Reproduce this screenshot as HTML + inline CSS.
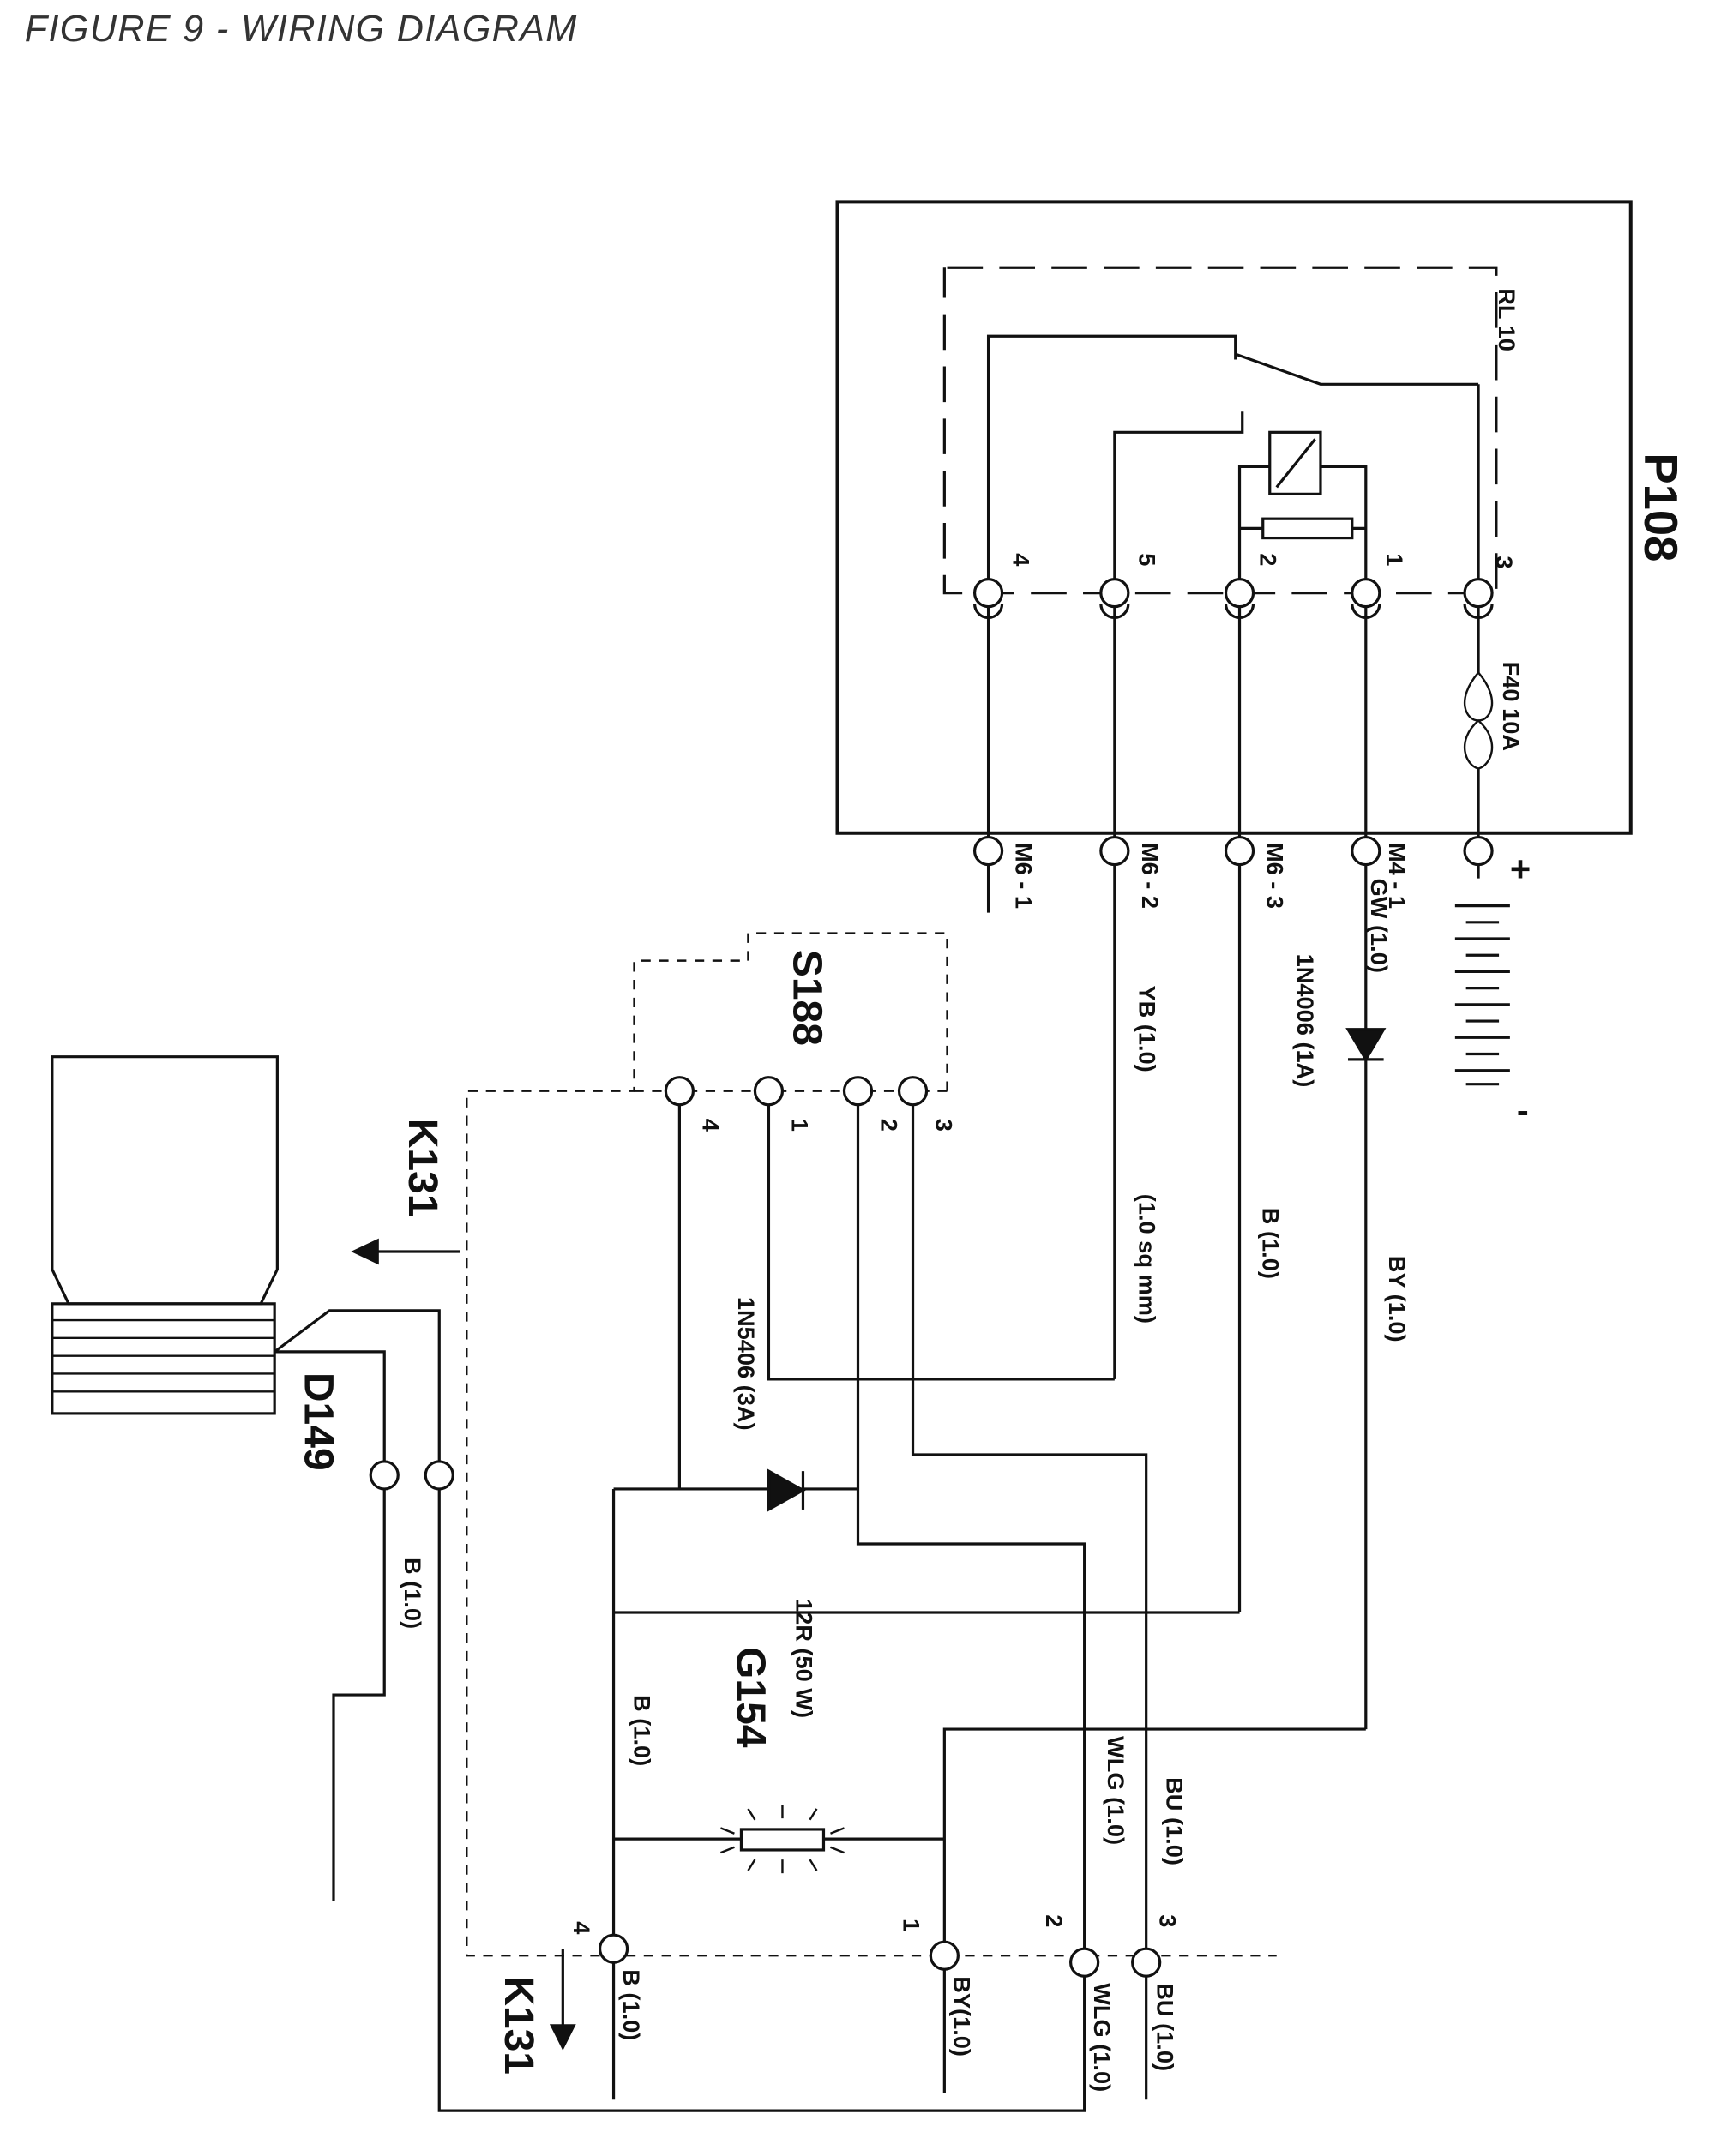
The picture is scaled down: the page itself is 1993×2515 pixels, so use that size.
<!DOCTYPE html>
<html><head><meta charset="utf-8"><style>
html,body{margin:0;padding:0;background:#fff;}
svg{display:block}
text{font-family:"Liberation Sans",sans-serif;font-weight:bold;fill:#111}
</style></head><body>
<svg width="1993" height="2515" viewBox="0 0 1245 1571" xmlns="http://www.w3.org/2000/svg">
<text x="18" y="30" style="font-weight:normal;font-style:italic;font-size:27px;fill:#333" textLength="402">FIGURE 9 - WIRING DIAGRAM</text>
<g stroke="#111" fill="none" stroke-width="2">
<rect x="610" y="147" width="578" height="460" stroke-width="2.5"/>
<path d="M690 195 H1090 V432 H688 V195" stroke-dasharray="26 12"/>
<line x1="720" y1="432" x2="720" y2="665"/>
<line x1="812" y1="432" x2="812" y2="1005"/>
<line x1="903" y1="432" x2="903" y2="1175"/>
<line x1="995" y1="432" x2="995" y2="1260"/>
<line x1="1077" y1="280" x2="1077" y2="640"/>
<path d="M720 432 V245 H900 V262"/>
<path d="M900 258 L962 280 H1077"/>
<path d="M812 432 V315 H905 V300"/>
<path d="M903 432 V340 H925 M962 340 H995 V432"/>
<rect x="925" y="315" width="37" height="45"/>
<line x1="930" y1="355" x2="958" y2="320"/>
<path d="M903 385 H920 M985 385 H995"/>
<rect x="920" y="378" width="65" height="14"/>
<path d="M1077 490 C1060 510 1068 525 1077 525 C1086 525 1094 510 1077 490 Z M1077 525 C1060 540 1068 558 1077 560 C1086 558 1094 540 1077 525 Z" stroke-width="1.5" fill="#fff"/>
<g stroke-width="2">
<line x1="1060" y1="660" x2="1100" y2="660"/><line x1="1068" y1="672" x2="1092" y2="672"/>
<line x1="1060" y1="684" x2="1100" y2="684"/><line x1="1068" y1="696" x2="1092" y2="696"/>
<line x1="1060" y1="708" x2="1100" y2="708"/><line x1="1068" y1="720" x2="1092" y2="720"/>
<line x1="1060" y1="732" x2="1100" y2="732"/><line x1="1068" y1="744" x2="1092" y2="744"/>
<line x1="1060" y1="756" x2="1100" y2="756"/><line x1="1068" y1="768" x2="1092" y2="768"/>
<line x1="1060" y1="780" x2="1100" y2="780"/><line x1="1068" y1="790" x2="1092" y2="790"/>
</g>
<path d="M812 1005 H560 V795"/>
<path d="M903 1175 H447"/>
<path d="M995 1260 H688 V1425"/>
<path d="M495 795 V1085"/>
<path d="M625 795 V1125 H790 V1538 H320 V955 H240 L200 985"/>
<path d="M665 795 V1060 H835 V1530"/>
<path d="M447 1085 H625"/>
<path d="M447 1085 V1530"/>
<path d="M688 1425 V1525"/>
<path d="M200 985 H280 V1235 H243 V1385"/>
<path d="M447 1340 H540 M600 1340 H688"/>
<rect x="540" y="1333" width="60" height="15" fill="#fff"/>
<g stroke-width="1.5">
<line x1="570" y1="1315" x2="570" y2="1325"/><line x1="570" y1="1355" x2="570" y2="1365"/>
<line x1="545" y1="1318" x2="550" y2="1326"/><line x1="595" y1="1318" x2="590" y2="1326"/>
<line x1="545" y1="1363" x2="550" y2="1355"/><line x1="595" y1="1363" x2="590" y2="1355"/>
<line x1="525" y1="1332" x2="535" y2="1336"/><line x1="615" y1="1332" x2="605" y2="1336"/>
<line x1="525" y1="1350" x2="535" y2="1346"/><line x1="615" y1="1350" x2="605" y2="1346"/>
</g>
<path d="M690 795 V680 H545 V700 H462 V795 H340 V1425 H930" stroke-dasharray="7 6" stroke-width="1.5"/>
<line x1="462" y1="795" x2="690" y2="795" stroke-dasharray="7 6" stroke-width="1.5"/>
<path d="M38 770 H202 V925 L190 950 H50 L38 925 Z"/>
<rect x="38" y="950" width="162" height="80"/>
<g stroke-width="1.5"><line x1="38" y1="962" x2="200" y2="962"/><line x1="38" y1="975" x2="200" y2="975"/><line x1="38" y1="988" x2="200" y2="988"/><line x1="38" y1="1001" x2="200" y2="1001"/><line x1="38" y1="1014" x2="200" y2="1014"/></g>
<line x1="272" y1="912" x2="335" y2="912"/>
<line x1="410" y1="1420" x2="410" y2="1480"/>
</g>
<g fill="#111" stroke="#111" stroke-width="2">
<polygon points="982,750 1008,750 995,772"/><line x1="982" y1="772" x2="1008" y2="772"/>
<polygon points="560,1072 560,1100 585,1086"/><line x1="585" y1="1072" x2="585" y2="1100"/>
<polygon points="258,912 275,904 275,920"/>
<polygon points="410,1492 402,1476 418,1476"/>
</g>
<g fill="#fff" stroke="#111" stroke-width="2">
<circle cx="720" cy="432" r="10"/><circle cx="812" cy="432" r="10"/><circle cx="903" cy="432" r="10"/><circle cx="995" cy="432" r="10"/><circle cx="1077" cy="432" r="10"/>
<circle cx="720" cy="620" r="10"/><circle cx="812" cy="620" r="10"/><circle cx="903" cy="620" r="10"/><circle cx="995" cy="620" r="10"/><circle cx="1077" cy="620" r="10"/>
<circle cx="495" cy="795" r="10"/><circle cx="560" cy="795" r="10"/><circle cx="625" cy="795" r="10"/><circle cx="665" cy="795" r="10"/>
<circle cx="280" cy="1075" r="10"/><circle cx="320" cy="1075" r="10"/>
<circle cx="447" cy="1420" r="10"/><circle cx="688" cy="1425" r="10"/><circle cx="790" cy="1430" r="10"/><circle cx="835" cy="1430" r="10"/>
</g>
<g stroke="#111" stroke-width="2" fill="none">
<path d="M710 440 A10 10 0 0 0 730 440"/><path d="M802 440 A10 10 0 0 0 822 440"/><path d="M893 440 A10 10 0 0 0 913 440"/><path d="M985 440 A10 10 0 0 0 1005 440"/><path d="M1067 440 A10 10 0 0 0 1087 440"/>
</g>
<g font-size="17">
<text transform="translate(1092,210) rotate(90)">RL 10</text>
<text transform="translate(1198,330) rotate(90)" font-size="34">P108</text>
<text transform="translate(738,403) rotate(90)">4</text>
<text transform="translate(830,403) rotate(90)">5</text>
<text transform="translate(918,403) rotate(90)">2</text>
<text transform="translate(1010,403) rotate(90)">1</text>
<text transform="translate(1090,405) rotate(90)">3</text>
<text transform="translate(1095,482) rotate(90)">F40 10A</text>
<text transform="translate(740,614) rotate(90)">M6 - 1</text>
<text transform="translate(832,614) rotate(90)">M6 - 2</text>
<text transform="translate(923,614) rotate(90)">M6 - 3</text>
<text transform="translate(1012,614) rotate(90)">M4 - 1</text>
<text transform="translate(999,640) rotate(90)">GW (1.0)</text>
<text transform="translate(945,695) rotate(90)">1N4006  (1A)</text>
<text transform="translate(830,718) rotate(90)">YB  (1.0)</text>
<text transform="translate(830,870) rotate(90)">(1.0 sq mm)</text>
<text transform="translate(920,880) rotate(90)">B (1.0)</text>
<text transform="translate(1012,915) rotate(90)">BY (1.0)</text>
<text transform="translate(1100,642)" font-size="26">+</text>
<text transform="translate(1105,818)" font-size="26">-</text>
<text transform="translate(578,692) rotate(90)" font-size="30">S188</text>
<text transform="translate(512,815) rotate(90)">4</text>
<text transform="translate(577,815) rotate(90)">1</text>
<text transform="translate(642,815) rotate(90)">2</text>
<text transform="translate(682,815) rotate(90)">3</text>
<text transform="translate(298,815) rotate(90)" font-size="30">K131</text>
<text transform="translate(222,1000) rotate(90)" font-size="30">D149</text>
<text transform="translate(295,1135) rotate(90)">B (1.0)</text>
<text transform="translate(538,945) rotate(90)">1N5406 (3A)</text>
<text transform="translate(580,1165) rotate(90)">12R (50 W)</text>
<text transform="translate(537,1200) rotate(90)" font-size="30">G154</text>
<text transform="translate(462,1235) rotate(90)">B (1.0)</text>
<text transform="translate(807,1265) rotate(90)">WLG (1.0)</text>
<text transform="translate(850,1295) rotate(90)">BU (1.0)</text>
<text transform="translate(418,1400) rotate(90)">4</text>
<text transform="translate(658,1398) rotate(90)">1</text>
<text transform="translate(762,1395) rotate(90)">2</text>
<text transform="translate(845,1395) rotate(90)">3</text>
<text transform="translate(454,1435) rotate(90)">B (1.0)</text>
<text transform="translate(695,1440) rotate(90)">BY(1.0)</text>
<text transform="translate(797,1445) rotate(90)">WLG (1.0)</text>
<text transform="translate(843,1445) rotate(90)">BU (1.0)</text>
<text transform="translate(368,1440) rotate(90)" font-size="30">K131</text>
</g>
</svg>
</body></html>
